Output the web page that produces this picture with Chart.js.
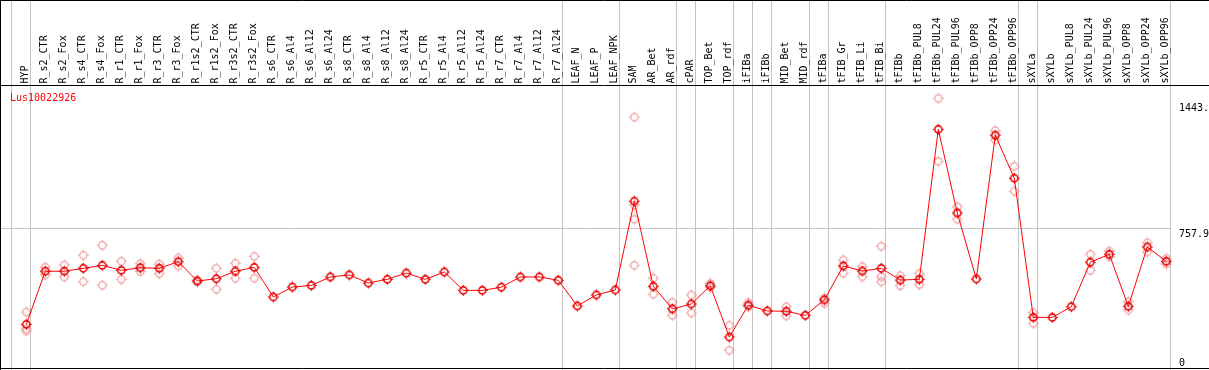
<!DOCTYPE html>
<html>
<head>
<meta charset="utf-8">
<script src="https://cdn.jsdelivr.net/npm/chart.js@4"></script>
<style>
  html, body { margin: 0; padding: 0; background: #fff; }
</style>
</head>
<body>
<canvas id="chartExpr" width="1209" height="370"></canvas>
<script>
// Data
const categories = ["HYP", "R_s2_CTR", "R_s2_Fox", "R_s4_CTR", "R_s4_Fox", "R_r1_CTR", "R_r1_Fox", "R_r3_CTR", "R_r3_Fox",
  "R_r1s2_CTR", "R_r1s2_Fox", "R_r3s2_CTR", "R_r3s2_Fox", "R_s6_CTR", "R_s6_Al4", "R_s6_Al12", "R_s6_Al24",
  "R_s8_CTR", "R_s8_Al4", "R_s8_Al12", "R_s8_Al24", "R_r5_CTR", "R_r5_Al4", "R_r5_Al12", "R_r5_Al24",
  "R_r7_CTR", "R_r7_Al4", "R_r7_Al12", "R_r7_Al24", "LEAF_N", "LEAF_P", "LEAF_NPK", "SAM", "AR_Bet", "AR_rdf",
  "cPAR", "TOP_Bet", "TOP_rdf", "iFIBa", "iFIBb", "MID_Bet", "MID_rdf", "tFIBa", "tFIB_Gr", "tFIB_Li", "tFIB_Bi",
  "tFIBb", "tFIBb_PUL8", "tFIBb_PUL24", "tFIBb_PUL96", "tFIBb_OPP8", "tFIBb_OPP24", "tFIBb_OPP96",
  "sXYLa", "sXYLb", "sXYLb_PUL8", "sXYLb_PUL24", "sXYLb_PUL96", "sXYLb_OPP8", "sXYLb_OPP24", "sXYLb_OPP96"];

const meanValues = [232, 521, 521, 537, 553, 526, 540, 537, 573, 468, 480, 521, 542, 381, 435, 444, 490,
  501, 457, 477, 511, 477, 517, 417, 417, 434, 490, 490, 472, 332, 392, 419, 902, 439, 316,
  343, 442, 163, 336, 305, 303, 281, 365, 550, 522, 537,
  473, 477, 1293, 838, 479, 1261, 1027,
  270, 270, 328, 570, 613, 330, 653, 575];

const rep1 = [299, 543, 555, 608, 662, 575, 562, 560, 593, 473, 537, 564, 602, null, null, null, null,
  null, null, null, null, null, null, null, null, null, null, null, null, null, null, null, 1359, 483, 352,
  392, 455, 227, 350, null, 328, null, 375, 582, 546, 657,
  497, 508, 1462, 872, null, 1286, 1092,
  295, null, null, 613, 631, 355, 676, 591];

const rep2 = [207, 502, 490, 464, 445, 477, 519, 508, 550, 463, 423, 483, 483, null, null, null, null,
  null, null, null, null, null, null, null, null, null, null, null, null, null, null, null, 553, 396, 281,
  294, 434, 91, 328, null, 278, null, 347, 510, 491, 491,
  443, 448, 1119, 804, null, 1235, 956,
  238, null, null, 526, 600, 310, 626, 560];

// extra replicates only where a third/fourth one is visible: [index, value]
const rep3 = [[0, 196], [32, 881], [45, 464]];
const rep4 = [[32, 804]];

const yTickValues = [0, 757.9, 1443.5];
const yTickLabels = ["0", "757.9", "1443."];
const groupEnds = [-1, 0, 28, 31, 34, 35, 37, 38, 39, 41, 42, 45, 52, 53, 60];
const geneName = "Lus10022926";

const FONT = "10px 'DejaVu Sans Mono', monospace";

function toPoints(arr) {
  return arr.map((v, i) => ({ x: i, y: v }));
}

function makeMarker(color, lw) {
  const c = document.createElement("canvas");
  c.width = 13; c.height = 13;
  const g = c.getContext("2d");
  g.strokeStyle = color;
  g.lineWidth = lw;
  g.beginPath();
  g.arc(6.5, 6.5, 3.6, 0, Math.PI * 2);
  g.stroke();
  g.fillStyle = color;
  g.fillRect(6, 1, 1, 1.5);
  g.fillRect(6, 10.5, 1, 1.5);
  g.fillRect(1, 6, 1.5, 1);
  g.fillRect(10.5, 6, 1.5, 1);
  return c;
}

const meanMarker = makeMarker("#e80000", 1.6);
const repMarker = makeMarker("#f09a9a", 1.2);

// lines, labels and frame
const decorPlugin = {
  id: "decor",
  beforeDatasetsDraw(chart) {
    const { ctx, scales: { x, y } } = chart;
    ctx.save();
    ctx.strokeStyle = "#c4c4c4";
    ctx.lineWidth = 1;
    // horizontal grid at middle tick
    const gy = Math.round(y.getPixelForValue(yTickValues[1])) + 0.5;
    const xEnd = x.getPixelForValue(groupEnds[groupEnds.length - 1] + 0.22);
    ctx.beginPath();
    ctx.moveTo(0, gy);
    ctx.lineTo(xEnd, gy);
    ctx.stroke();
    // vertical group separators
    groupEnds.forEach(g => {
      const px = Math.round(x.getPixelForValue(g + 0.22)) + 0.5;
      ctx.beginPath();
      ctx.moveTo(px, 0);
      ctx.lineTo(px, 370);
      ctx.stroke();
    });
    ctx.restore();
  },
  afterDatasetsDraw(chart) {
    const { ctx, scales: { x, y } } = chart;
    ctx.save();
    // frame
    ctx.strokeStyle = "#000";
    ctx.lineWidth = 1;
    ctx.beginPath();
    ctx.moveTo(0, 0.5); ctx.lineTo(1209, 0.5);
    ctx.moveTo(0, 85.5); ctx.lineTo(1209, 85.5);
    ctx.moveTo(0, 368.5); ctx.lineTo(1209, 368.5);
    ctx.moveTo(0.5, 0); ctx.lineTo(0.5, 370);
    ctx.stroke();

    ctx.font = FONT;
    // category labels
    ctx.fillStyle = "#000";
    ctx.textAlign = "left";
    ctx.textBaseline = "middle";
    categories.forEach((c, i) => {
      const px = x.getPixelForValue(i);
      ctx.save();
      ctx.translate(px - 0.5, 83.5);
      ctx.rotate(-Math.PI / 2);
      ctx.fillText(c, 0, 0);
      ctx.restore();
    });
    // y tick labels
    ctx.textBaseline = "alphabetic";
    yTickValues.forEach((v, i) => {
      const py = Math.min(y.getPixelForValue(v) + 9, 366);
      ctx.fillText(yTickLabels[i], 1179, py);
    });
    // gene name
    ctx.fillStyle = "#ff0000";
    ctx.fillText(geneName, 10, 101);
    ctx.restore();
  }
};

const ctx = document.getElementById("chartExpr");
new Chart(ctx, {
  type: "line",
  data: {
    datasets: [
      {
        label: "mean",
        data: toPoints(meanValues),
        borderColor: "#ff0000",
        borderWidth: 1,
        pointStyle: meanMarker,
        pointRadius: 4,
        tension: 0,
        order: 0
      },
      {
        label: "rep1",
        data: toPoints(rep1),
        showLine: false,
        pointStyle: repMarker,
        pointRadius: 4,
        order: 1
      },
      {
        label: "rep2",
        data: toPoints(rep2),
        showLine: false,
        pointStyle: repMarker,
        pointRadius: 4,
        order: 1
      },
      {
        label: "rep3",
        data: rep3.map(r => ({ x: r[0], y: r[1] })),
        showLine: false,
        pointStyle: repMarker,
        pointRadius: 4,
        order: 1
      },
      {
        label: "rep4",
        data: rep4.map(r => ({ x: r[0], y: r[1] })),
        showLine: false,
        pointStyle: repMarker,
        pointRadius: 4,
        order: 1
      }
    ]
  },
  options: {
    responsive: false,
    animation: false,
    events: [],
    layout: { padding: 0, autoPadding: false },
    plugins: { legend: { display: false }, tooltip: { enabled: false } },
    scales: {
      x: { type: "linear", display: false, min: -26.3 / 19, max: (1209 - 26.3) / 19 },
      y: { type: "linear", display: false, min: -3 * 5.441, max: 367 * 5.441 }
    }
  },
  plugins: [decorPlugin]
});
</script>
</body>
</html>
